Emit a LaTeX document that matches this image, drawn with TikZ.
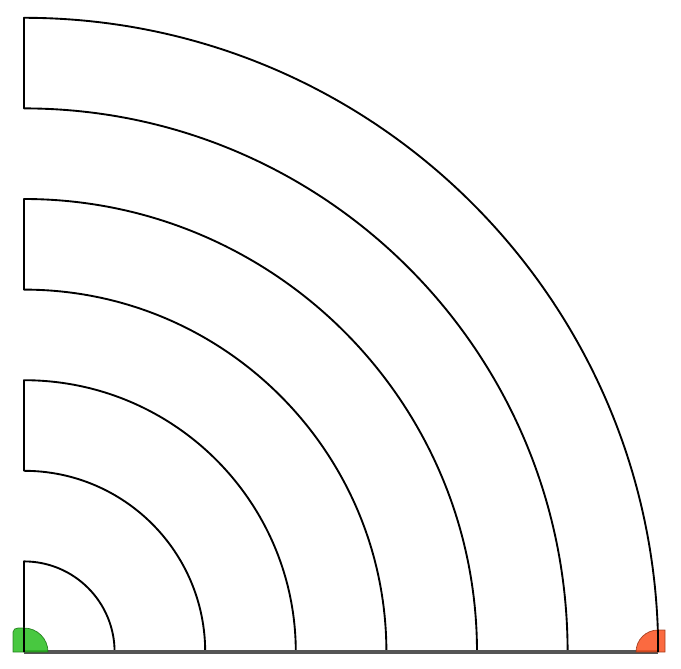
\documentclass[tikz,border=0pt]{standalone}
\usepackage{tikz}

\definecolor{ringgray}{RGB}{85,85,85}
\definecolor{startgreen}{RGB}{40,190,30}
\definecolor{endred}{RGB}{250,80,30}

\begin{document}
\begin{tikzpicture}[x=0.03cm,y=0.03cm]
        \useasboundingbox (-24,-16) rectangle (657,652);      % page frame
        \coordinate (O) at (0,0);                            % centre of the rings
        \coordinate (E) at (634,0);                          % outer end of the base line
        \draw [line width=1.6pt, line join=round] (O) -- (0,90.6) arc (90:0:90.6);   % inner quarter disc
        \foreach \k in {2,4,6} {                             % three quarter rings
            \draw [line width=1.6pt, line join=round]
                (90.6*\k,0) arc (0:90:90.6*\k) -- (0,90.6*\k+90.6) arc (90:0:90.6*\k+90.6);
        }
        \draw [ringgray, line width=3.2pt] (O) -- (E);       % base line
        \fill [startgreen, opacity=.85, draw=startgreen!60!black, line width=.6pt]
            (-11,0) -- (-11,20) to[out=90,in=180] (-6,24) -- (0,24) arc (90:0:24) -- cycle;   % start marker
        \fill [endred, opacity=.85, draw=endred!60!black, line width=.6pt, shift={(E)}]
            (7,0) -- (7,22) -- (0,22) arc (90:180:22) -- cycle;   % end marker
        \draw [line width=1.6pt] (O) -- ++(0,24);
        \draw [line width=1.6pt] (E) -- ++(0,22);
\end{tikzpicture}
\end{document}
